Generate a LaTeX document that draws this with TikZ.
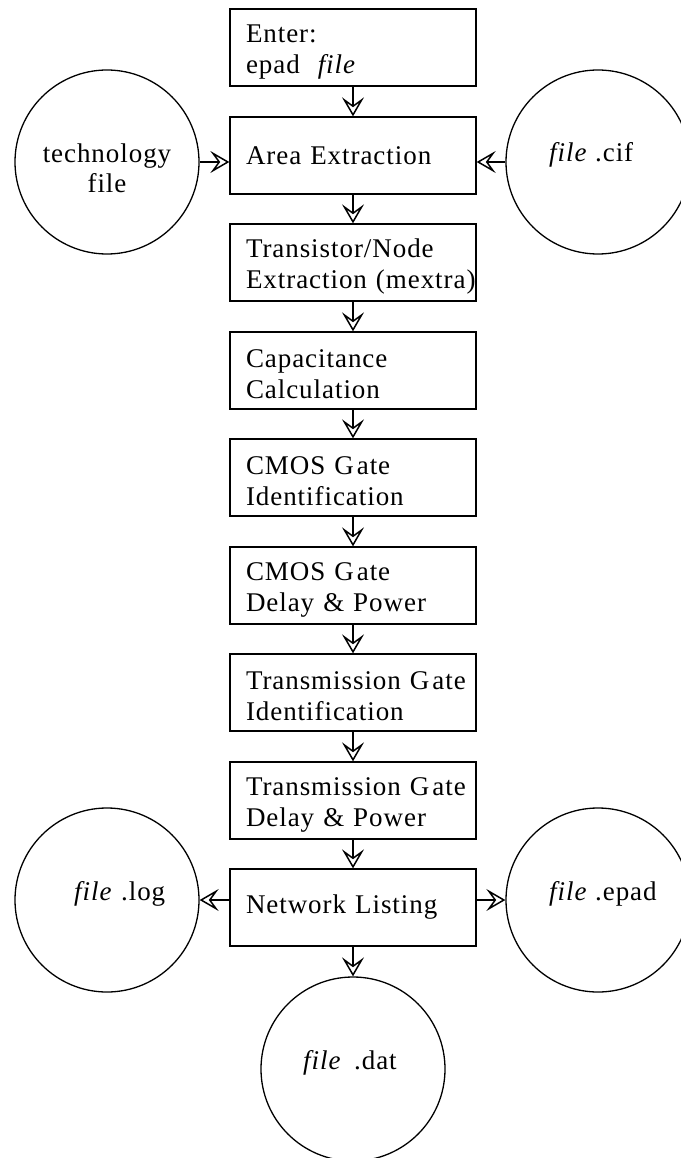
\documentclass[tikz,border=0pt]{standalone}
\usepackage{fontspec}
\setmainfont{Liberation Serif}[LetterSpace=3.5]
\usetikzlibrary{arrows.meta}
\newcommand{\firstline}{\rule{0pt}{26pt}}
\tikzset{
  stepbox/.style={draw, line width=1.3pt, rectangle, minimum width=246pt, minimum height=77pt,
    inner xsep=16pt, inner ysep=0pt, text width=214pt, align=left,
    font=\fontsize{27}{31}\selectfont},
  filecirc/.style={draw, line width=1.3pt, circle, minimum size=184pt, inner sep=0pt},
  lbl/.style={inner sep=0pt, font=\fontsize{27}{30}\selectfont},
  arr/.style={line width=1.5pt, -{Stealth[open, length=19pt, width=22pt, inset=8pt]}}
}
\begin{document}
\begin{tikzpicture}[x=1pt, y=-1pt]
\path[use as bounding box] (0,0) rectangle (680,1158);
% process boxes
\node[stepbox] (enter) at (353,47.5) {\firstline Enter:\\epad \ \textit{file}};
\node[stepbox] (area)  at (353,155.5) {Area Extraction};
\node[stepbox] (trans) at (353,262.5) {\firstline Transistor/Node\\\mbox{Extraction (mextra)}};
\node[stepbox] (cap)   at (353,370.5) {\firstline Capacitance\\Calculation};
\node[stepbox] (cmosid) at (353,477.5) {\firstline\mbox{CMOS G\kern3pt ate}\\Identification};
\node[stepbox] (cmosdp) at (353,585.5) {\firstline\mbox{CMOS G\kern3pt ate}\\Delay \& Power};
\node[stepbox] (tgid)  at (353,692.5) {\firstline\mbox{Transmission G\kern3pt ate}\\Identification};
\node[stepbox] (tgdp)  at (353,800.5) {\firstline\mbox{Transmission G\kern3pt ate}\\Delay \& Power};
\node[stepbox] (net)   at (353,907.5) {Network Listing};
% file circles
\node[filecirc] (tech) at (107,162) {};
\node[lbl, align=center, anchor=base] (techtxt) at (107,193) {technology\\file};
\node[filecirc] (cif) at (598,162) {};
\node[lbl, anchor=base west] (ciftxt) at (549,162) {\textit{file} .cif};
\node[filecirc] (log) at (107,900) {};
\node[lbl, anchor=base west] (logtxt) at (74,900) {\textit{file}\kern1pt{} .log};
\node[filecirc] (epad) at (598,900) {};
\node[lbl, anchor=base west] (epadtxt) at (549,900) {\textit{file} .epad};
\node[filecirc] (dat) at (353,1069) {};
\node[lbl, anchor=base west] (dattxt) at (303,1069) {\textit{file}\kern5pt{} .dat};
% flow arrows
\draw[arr] (enter) -- (area);
\draw[arr] (area) -- (trans);
\draw[arr] (trans) -- (cap);
\draw[arr] (cap) -- (cmosid);
\draw[arr] (cmosid) -- (cmosdp);
\draw[arr] (cmosdp) -- (tgid);
\draw[arr] (tgid) -- (tgdp);
\draw[arr] (tgdp) -- (net);
\draw[arr] (tech.east) -- (tech.east -| area.west);
\draw[arr] (cif.west) -- (cif.west -| area.east);
\draw[arr] (log.east -| net.west) -- (log.east);
\draw[arr] (epad.west -| net.east) -- (epad.west);
\draw[arr] (net) -- (dat);
\end{tikzpicture}
\end{document}
